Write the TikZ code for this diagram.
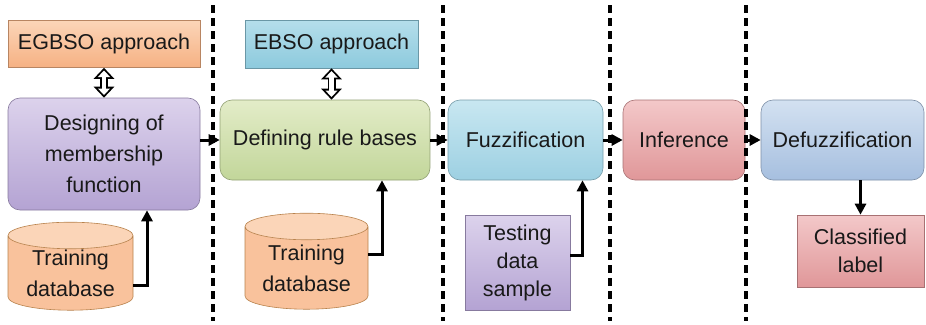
\documentclass[tikz,border=0pt]{standalone}
\usepackage{fontspec}
\setmainfont{Liberation Sans}
\usetikzlibrary{positioning,shapes.geometric,arrows.meta}

\begin{document}
\begin{tikzpicture}[x=1pt, y=-1pt,
  every node/.style={font=\fontsize{21.5}{31}\selectfont, align=center, inner sep=0pt, text=black!90},
  box/.style={draw=#1!75!black, line width=0.6pt},
  rbox/.style={box=#1, rounded corners=12pt},
  db/.style={cylinder, shape border rotate=90, aspect=0.3, draw=orange!60!black!70, line width=0.6pt,
    cylinder uses custom fill, cylinder body fill=peachC, cylinder end fill=peachA},
  arr/.style={line width=3pt, -{Triangle[length=11pt,width=11pt]}},
  hol/.style={line width=8pt, {Triangle[length=11pt,width=20pt]}-{Triangle[length=11pt,width=20pt]}},
  holin/.style={white, line width=4.4pt, shorten <=2.7pt, shorten >=2.7pt,
    {Triangle[length=6.5pt,width=11.8pt]}-{Triangle[length=6.5pt,width=11.8pt]}},
  sep/.style={line width=3.4pt, dash pattern=on 8pt off 5pt}]
\useasboundingbox (0,0) rectangle (926,324);
% colours
\definecolor{peachA}{HTML}{FBD5B8}\definecolor{peachB}{HTML}{F6B183}\definecolor{peachC}{HTML}{F9C29C}
\definecolor{skyA}{HTML}{B5DEEB}\definecolor{skyB}{HTML}{8DCADD}
\definecolor{lilaA}{HTML}{DCD2EC}\definecolor{lilaB}{HTML}{B4A3D3}
\definecolor{limeA}{HTML}{E3ECC8}\definecolor{limeB}{HTML}{C2D69A}
\definecolor{cyanA}{HTML}{C8E7F1}\definecolor{cyanB}{HTML}{9DD0E2}
\definecolor{roseA}{HTML}{F3C8C9}\definecolor{roseB}{HTML}{E09799}
\definecolor{blueA}{HTML}{D3E1F1}\definecolor{blueB}{HTML}{A6BFDF}
% top row
\node[box=peachB, top color=peachA, bottom color=peachB, minimum width=192pt, minimum height=47pt] (egbso) at (104,44) {EGBSO approach};
\node[box=skyB, top color=skyA, bottom color=skyB, minimum width=173pt, minimum height=48pt] (ebso) at (331.5,44) {EBSO approach};
% middle row
\node[rbox=lilaB, top color=lilaA, bottom color=lilaB, minimum width=192pt, minimum height=112pt] (design) at (104,154) {Designing of\\membership\\function};
\node[rbox=limeB, top color=limeA, bottom color=limeB, minimum width=210pt, minimum height=80pt] (define) at (325,140) {Defining rule bases};
\node[rbox=cyanB, top color=cyanA, bottom color=cyanB, minimum width=155pt, minimum height=80pt] (fuzz) at (525.5,140) {Fuzzification};
\node[rbox=roseB, top color=roseA, bottom color=roseB, minimum width=122pt, minimum height=80pt] (infer) at (684,140) {Inference};
\node[rbox=blueB, top color=blueA, bottom color=blueB, minimum width=163pt, minimum height=80pt] (defuzz) at (842.5,140) {Defuzzification};
% bottom row
\node[db, minimum width=125pt, minimum height=88pt] (train1) at (70.5,273) {Training\\database};
\node[db, minimum width=123pt, minimum height=96pt] (train2) at (306.5,268) {Training\\database};
\node[box=lilaB, top color=lilaA, bottom color=lilaB, minimum width=105pt, minimum height=95pt, font=\fontsize{21.5}{28}\selectfont] (test) at (517.5,262.5) {Testing\\data\\sample};
\node[box=roseB, top color=roseA, bottom color=roseB, minimum width=127pt, minimum height=72pt, font=\fontsize{21.5}{28}\selectfont] (label) at (860.5,251) {Classified\\label};

% separators
\foreach \sx in {213,443,610,746} \draw[sep] (\sx,5) -- (\sx,321);

% two-way links
\draw[hol] (egbso.south) -- (design.north);
\draw[holin] (egbso.south) -- (design.north);
\draw[hol] (ebso.south) -- (ebso.south |- define.north);
\draw[holin] (ebso.south) -- (ebso.south |- define.north);
% flow
\draw[arr] (design.east |- define.west) -- (define.west);
\draw[arr] (define) -- (fuzz);
\draw[arr] (fuzz) -- (infer);
\draw[arr] (infer) -- (defuzz);
\draw[arr] (label.north |- defuzz.south) -- (label.north);
\draw[arr] ([yshift=-12pt]train1.east) -| ([xshift=43pt]design.south);
\draw[arr] ([yshift=13pt]train2.east) -| ([xshift=57pt]define.south);
\draw[arr] ([yshift=7pt]test.east) -| ([xshift=57pt]fuzz.south);
\end{tikzpicture}
\end{document}
